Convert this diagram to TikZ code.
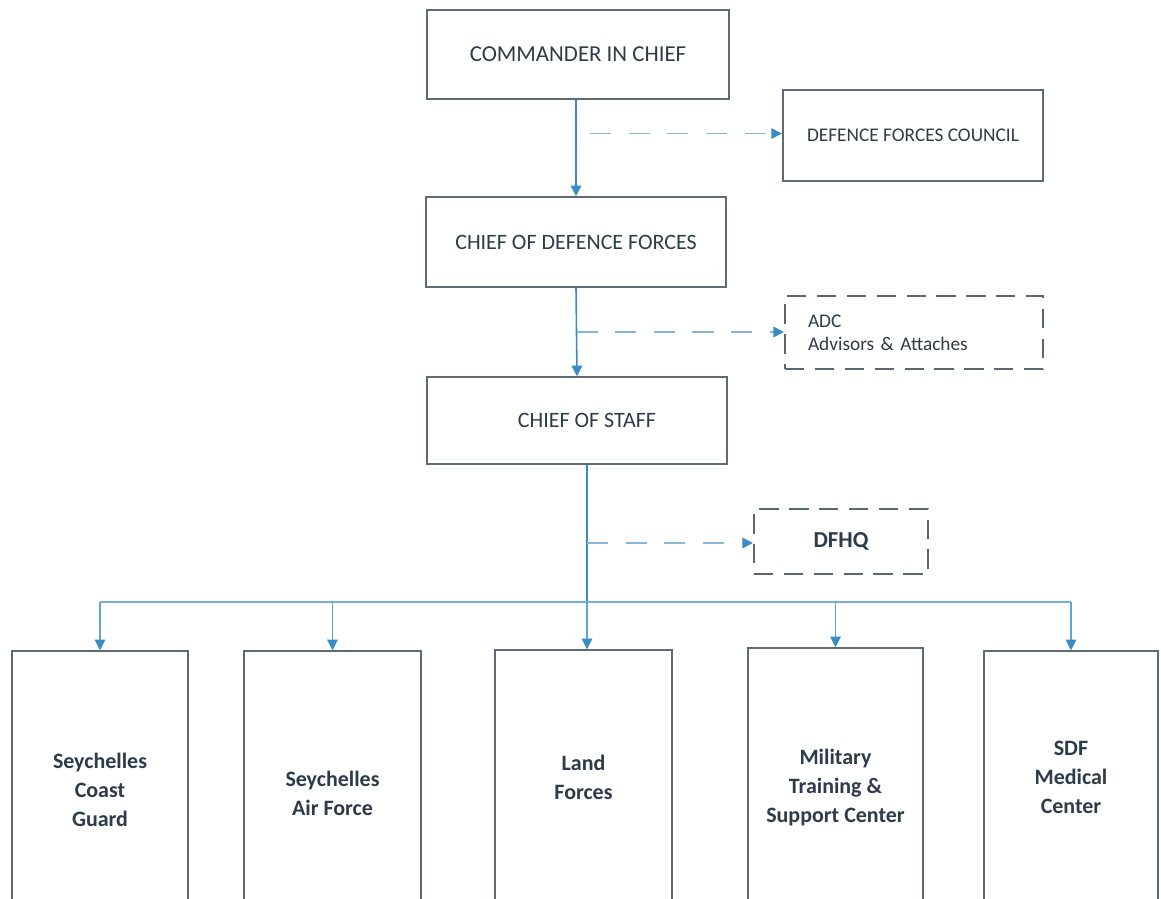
\documentclass[tikz,border=0pt]{standalone}
\usepackage{fontspec}
\setmainfont{Carlito}
\usetikzlibrary{arrows.meta,calc}
\definecolor{boxc}{HTML}{5E6B77}
\definecolor{txtc}{HTML}{2E3B4A}
\definecolor{linec}{HTML}{3A8DC4}
\definecolor{dashc}{HTML}{86B7D8}
\definecolor{dboxc}{HTML}{5A6773}
\begin{document}
\begin{tikzpicture}[x=0.02cm,y=-0.02cm,
  topbox/.style={draw=boxc,line width=0.9pt,fill=white,text=txtc,inner sep=0pt},
  dbox/.style={draw=dboxc,line width=1.2pt,dash pattern=on 11pt off 6pt,fill=white,text=txtc,inner sep=0pt},
  unitbox/.style={draw=boxc,line width=0.9pt,fill=white,text=txtc,align=center,inner sep=0pt,
    font=\fontsize{12.5}{16.5}\selectfont\bfseries},
  conn/.style={draw=linec,line width=0.9pt,-{Triangle[width=6pt,length=6pt]}},
  droparrow/.style={draw=linec!80,line width=0.6pt,-{Triangle[width=6pt,length=6pt,color=linec]}},
  busline/.style={draw=linec!70,line width=0.7pt},
  dasharrow/.style={draw=dashc,line width=0.9pt,dash pattern=on 12pt off 10pt,-{Triangle[width=6pt,length=6pt,color=linec]}}
]
\clip (0,0) rectangle (1161,899);
\fill[white] (0,0) rectangle (1161,899);

% top boxes
\node[topbox,minimum width=6.04cm,minimum height=1.78cm,font=\fontsize{13}{15.6}\selectfont] (cic) at (578,54.5) {COMMANDER IN CHIEF};
\node[topbox,line width=1.3pt,minimum width=5.2cm,minimum height=1.82cm,font=\fontsize{11}{13}\selectfont] (dfc) at (913,135.5) {DEFENCE FORCES COUNCIL};
\node[topbox,minimum width=6cm,minimum height=1.8cm,font=\fontsize{12.5}{15}\selectfont] (cdf) at (576,242) {CHIEF OF DEFENCE FORCES};
\node[dbox,minimum width=5.16cm,minimum height=1.46cm,text width=4.24cm,align=left,inner xsep=0.46cm,font=\fontsize{11}{13}\selectfont] (adc) at (914,332.5) {ADC\\Advisors \& Attaches};
\node[topbox,minimum width=6cm,minimum height=1.74cm,font=\fontsize{12.5}{15}\selectfont] (cos) at (577,420.5) {\hspace*{0.4cm}CHIEF OF STAFF};
\node[dbox,minimum width=3.48cm,minimum height=1.3cm,font=\fontsize{13}{15}\selectfont\bfseries] (dfhq) at (841,541.5) {DFHQ};

% bottom unit boxes (run off the bottom edge)
\node[unitbox,minimum width=3.52cm,minimum height=5.56cm] (scg) at (100,790) {Seychelles\\Coast\\Guard};
\node[unitbox,minimum width=3.54cm,minimum height=5.68cm] (saf) at (332.5,793) {Seychelles\\Air Force};
\node[unitbox,minimum width=3.54cm,minimum height=5.08cm] (lf) at (583.5,777) {Land\\Forces};
\node[unitbox,minimum width=3.5cm,minimum height=5.6cm] (mtsc) at (835.5,788) {Military\\Training \&\\Support Center};
\node[unitbox,minimum width=3.48cm,minimum height=5.04cm] (sdf) at (1071,777) {SDF\\Medical\\Center};

% trunk 1
\coordinate (t1) at (cic.south -| cdf.north);
\draw[conn] (t1) -- (cdf.north);
\coordinate (j1) at ($(t1)!0.35!(cdf.north)$);
\draw[dasharrow] ($(j1)+(14,0)$) -- (j1 -| dfc.west);

% trunk 2
\draw[conn] (cdf.south) -- (cos.north);
\coordinate (j2) at ($(cdf.south)!0.5!(cos.north)$);
\draw[dasharrow] (j2) -- (j2 -| adc.west);

% trunk 3
\coordinate (t3) at ($(cos.south)+(10,0)$);
\coordinate (bus) at (587,602);
\draw[draw=linec,line width=1.1pt] (t3) -- (bus);
\coordinate (j3) at ($(t3)!0.57!(bus)$);
\draw[dasharrow] (j3) -- (j3 -| dfhq.west);

% bus
\draw[busline] (scg.north |- bus) -- (sdf.north |- bus);
\draw[droparrow] (scg.north |- bus) -- (scg.north);
\draw[droparrow] (saf.north |- bus) -- (saf.north);
\draw[droparrow] (bus) -- (bus |- lf.north);
\draw[droparrow] (mtsc.north |- bus) -- (mtsc.north);
\draw[droparrow] (sdf.north |- bus) -- (sdf.north);
\end{tikzpicture}
\end{document}
